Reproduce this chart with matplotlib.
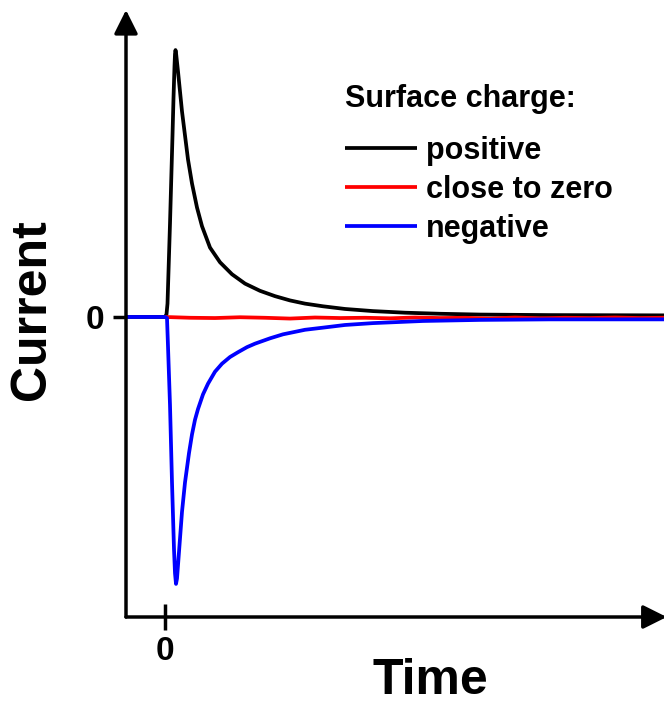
#!/usr/bin/env python3
"""Surface-charge dependent current transients after a step at t = 0."""

import matplotlib
matplotlib.use("Agg")
import matplotlib.pyplot as plt

plt.rcParams["font.family"] = ["Liberation Sans", "DejaVu Sans"]
plt.rcParams["font.weight"] = "bold"

# time in arbitrary units, current normalised to the positive peak
t_positive = [-3.9, -0.5, 0.0, 0.15, 0.25, 0.5, 0.75, 0.85, 0.95, 1.0, 1.05, 1.1,
              1.3, 1.7, 2.0, 2.3, 2.7, 3.2, 3.7, 4.5, 5.5, 6.7, 8.0, 9.5, 11.0,
              12.5, 14.0, 15.8, 18.0, 20.8, 24.0, 27.5, 31.5, 38.5, 49.9]
i_positive = [0.0, 0.0, 0.0, 0.01, 0.05, 0.35, 0.68, 0.82, 0.94, 0.985, 1.0, 0.99,
              0.92, 0.77, 0.68, 0.59, 0.50, 0.41, 0.34, 0.26, 0.205, 0.16, 0.125,
              0.098, 0.078, 0.062, 0.05, 0.04, 0.03, 0.022, 0.016, 0.012, 0.009,
              0.007, 0.006]

t_zero = [0.0, 2.5, 5.0, 7.5, 10.0, 12.5, 15.0, 17.5, 20.0, 22.5, 25.0, 27.5,
          30.0, 32.5, 35.0, 37.5, 40.0, 42.5, 45.0, 47.5, 49.9]
i_zero = [0.0, -0.003, -0.004, -0.001, -0.003, -0.006, -0.002, -0.004, -0.003,
          -0.005, -0.002, -0.004, -0.003, -0.006, -0.002, -0.005, -0.003,
          -0.004, -0.002, -0.004, -0.003]

t_negative = [-3.9, 0.0, 0.2, 0.3, 0.5, 0.7, 0.9, 1.0, 1.1, 1.2, 1.4, 1.7, 2.0,
              2.4, 2.7, 3.0, 3.3, 3.8, 4.3, 5.0, 5.7, 6.5, 7.3, 8.2, 9.0, 10.5,
              11.8, 14.0, 15.8, 18.0, 20.8, 25.8, 31.5, 38.5, 49.9]
i_negative = [0.0, 0.0, -0.004, -0.11, -0.33, -0.62, -0.87, -0.96, -1.0, -0.98,
              -0.88, -0.73, -0.62, -0.51, -0.44, -0.385, -0.345, -0.29, -0.25,
              -0.205, -0.175, -0.15, -0.132, -0.113, -0.1, -0.08, -0.065, -0.048,
              -0.04, -0.03, -0.023, -0.015, -0.011, -0.009, -0.009]

series = [
    ("positive", t_positive, i_positive, "black"),
    ("close to zero", t_zero, i_zero, "red"),
    ("negative", t_negative, i_negative, "blue"),
]


def main() -> None:
    fig = plt.figure(figsize=(6.64, 7.13), dpi=100)
    W, H = 664, 713
    left, right, bottom, top = 126, 664, 617, 10
    ax = fig.add_axes([left / W, 1 - bottom / H, (right - left) / W, (bottom - top) / H])

    for label, t, cur, color in series:
        ax.plot(t, cur, color=color, lw=2.7, label=label,
                solid_joinstyle="round", solid_capstyle="butt")

    ax.set_xlim(-3.9, 49.9)
    ax.set_ylim(-1.124, 1.15)

    for side in ("top", "right", "left", "bottom"):
        ax.spines[side].set_visible(False)

    arrow = dict(arrowstyle="-|>,head_length=0.9,head_width=0.45", lw=2.5, color="black",
                 shrinkA=0, shrinkB=0, mutation_scale=16)
    ax.annotate("", xy=(0, 1), xytext=(0, 0), xycoords="axes fraction", arrowprops=arrow)
    ax.annotate("", xy=(1.005, 0), xytext=(0, 0), xycoords="axes fraction", arrowprops=arrow)

    ax.set_xticks([0])
    ax.set_yticks([0])
    ax.set_xticklabels(["0"], fontsize=24, fontweight="bold")
    ax.set_yticklabels(["0"], fontsize=24, fontweight="bold")
    ax.tick_params(axis="x", direction="inout", length=19, width=2.5, pad=4)
    ax.tick_params(axis="y", direction="out", length=9.5, width=2.5, pad=6)

    ax.set_xlabel("Time", fontsize=36, fontweight="bold", va="center", ha="center")
    ax.set_ylabel("Current", fontsize=36, fontweight="bold", va="center", ha="center")
    ax.xaxis.set_label_coords((430 - left) / (right - left), (bottom - 681) / (bottom - top))
    ax.yaxis.set_label_coords((32 - left) / (right - left), (bottom - 310) / (bottom - top))

    fig.text(345 / W, 1 - 99 / H, "Surface charge:", fontsize=22, fontweight="bold",
             ha="left", va="center")
    leg = ax.legend(loc="upper left", bbox_to_anchor=(345 / W, 1 - 136 / H),
                    bbox_transform=fig.transFigure, frameon=False, fontsize=22,
                    handlelength=2.35, handletextpad=0.3, labelspacing=0.29,
                    borderpad=0, borderaxespad=0)
    for text in leg.get_texts():
        text.set_fontweight("bold")

    fig.savefig("out.png", dpi=100)
    plt.close(fig)


if __name__ == "__main__":
    main()
